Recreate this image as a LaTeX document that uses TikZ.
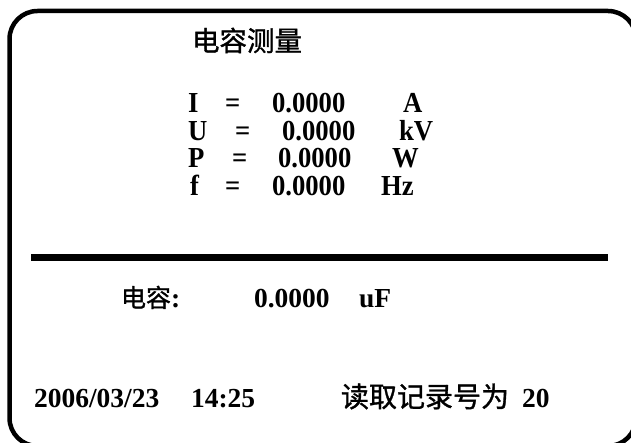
\documentclass[tikz,border=0pt]{standalone}
\usepackage{fontspec}
\setmainfont{Liberation Serif}
\newfontfamily\cjk[FakeBold=1.2]{Noto Sans CJK SC}
\newfontfamily\narrowserif[FakeStretch=0.92]{Liberation Serif}
\begin{document}
\begin{tikzpicture}[x=1pt,y=-1pt,
  txt/.style={anchor=base west,inner sep=0pt,outer sep=0pt},
  big/.style={txt,font=\fontsize{29}{32}\selectfont\narrowserif\bfseries},
  small/.style={txt,font=\fontsize{27.5}{30}\selectfont\bfseries}]
\useasboundingbox (0,0) rectangle (631,443);
\clip (0,0) rectangle (631,443);
\draw[line width=4.5pt,rounded corners=28pt] (9.5,11) rectangle (636,446);
\draw[line width=7pt] (31,257.5) -- (608,257.5);
% title
\node[txt,font=\fontsize{27.5}{30}\selectfont\cjk] (title) at (192,51) {电容测量};
% rows
\node[big] (il) at (188,113) {I};
\node[big] (ie) at (225,113) {=};
\node[big] (iv) at (272,113) {0.0000};
\node[big] (iu) at (403,113) {A};
\node[big] (ul) at (188,141) {U};
\node[big] (ue) at (235,141) {=};
\node[big] (uv) at (282,141) {0.0000};
\node[big] (uu) at (399,141) {kV};
\node[big] (pl) at (188,168) {P};
\node[big] (pe) at (232,168) {=};
\node[big] (pv) at (278,168) {0.0000};
\node[big] (pu) at (392,168) {W};
\node[big] (fl) at (190,196) {f};
\node[big] (fe) at (225,196) {=};
\node[big] (fv) at (272,196) {0.0000};
\node[big] (fu) at (381,196) {Hz};
% capacitance
\node[small] (cl) at (121,307) {{\fontsize{25}{28}\selectfont\cjk\mdseries 电容}:};
\node[small] (cv) at (254,307) {0.0000};
\node[small] (cu) at (359,307) {uF};
% bottom line
\node[small] (date) at (34,407) {2006/03/23};
\node[small] (time) at (191,407) {14:25};
\node[small] (rec) at (341,407) {{\fontsize{28}{30}\selectfont\cjk\mdseries 读取记录号为}};
\node[small] (num) at (522,407) {20};
\end{tikzpicture}
\end{document}
